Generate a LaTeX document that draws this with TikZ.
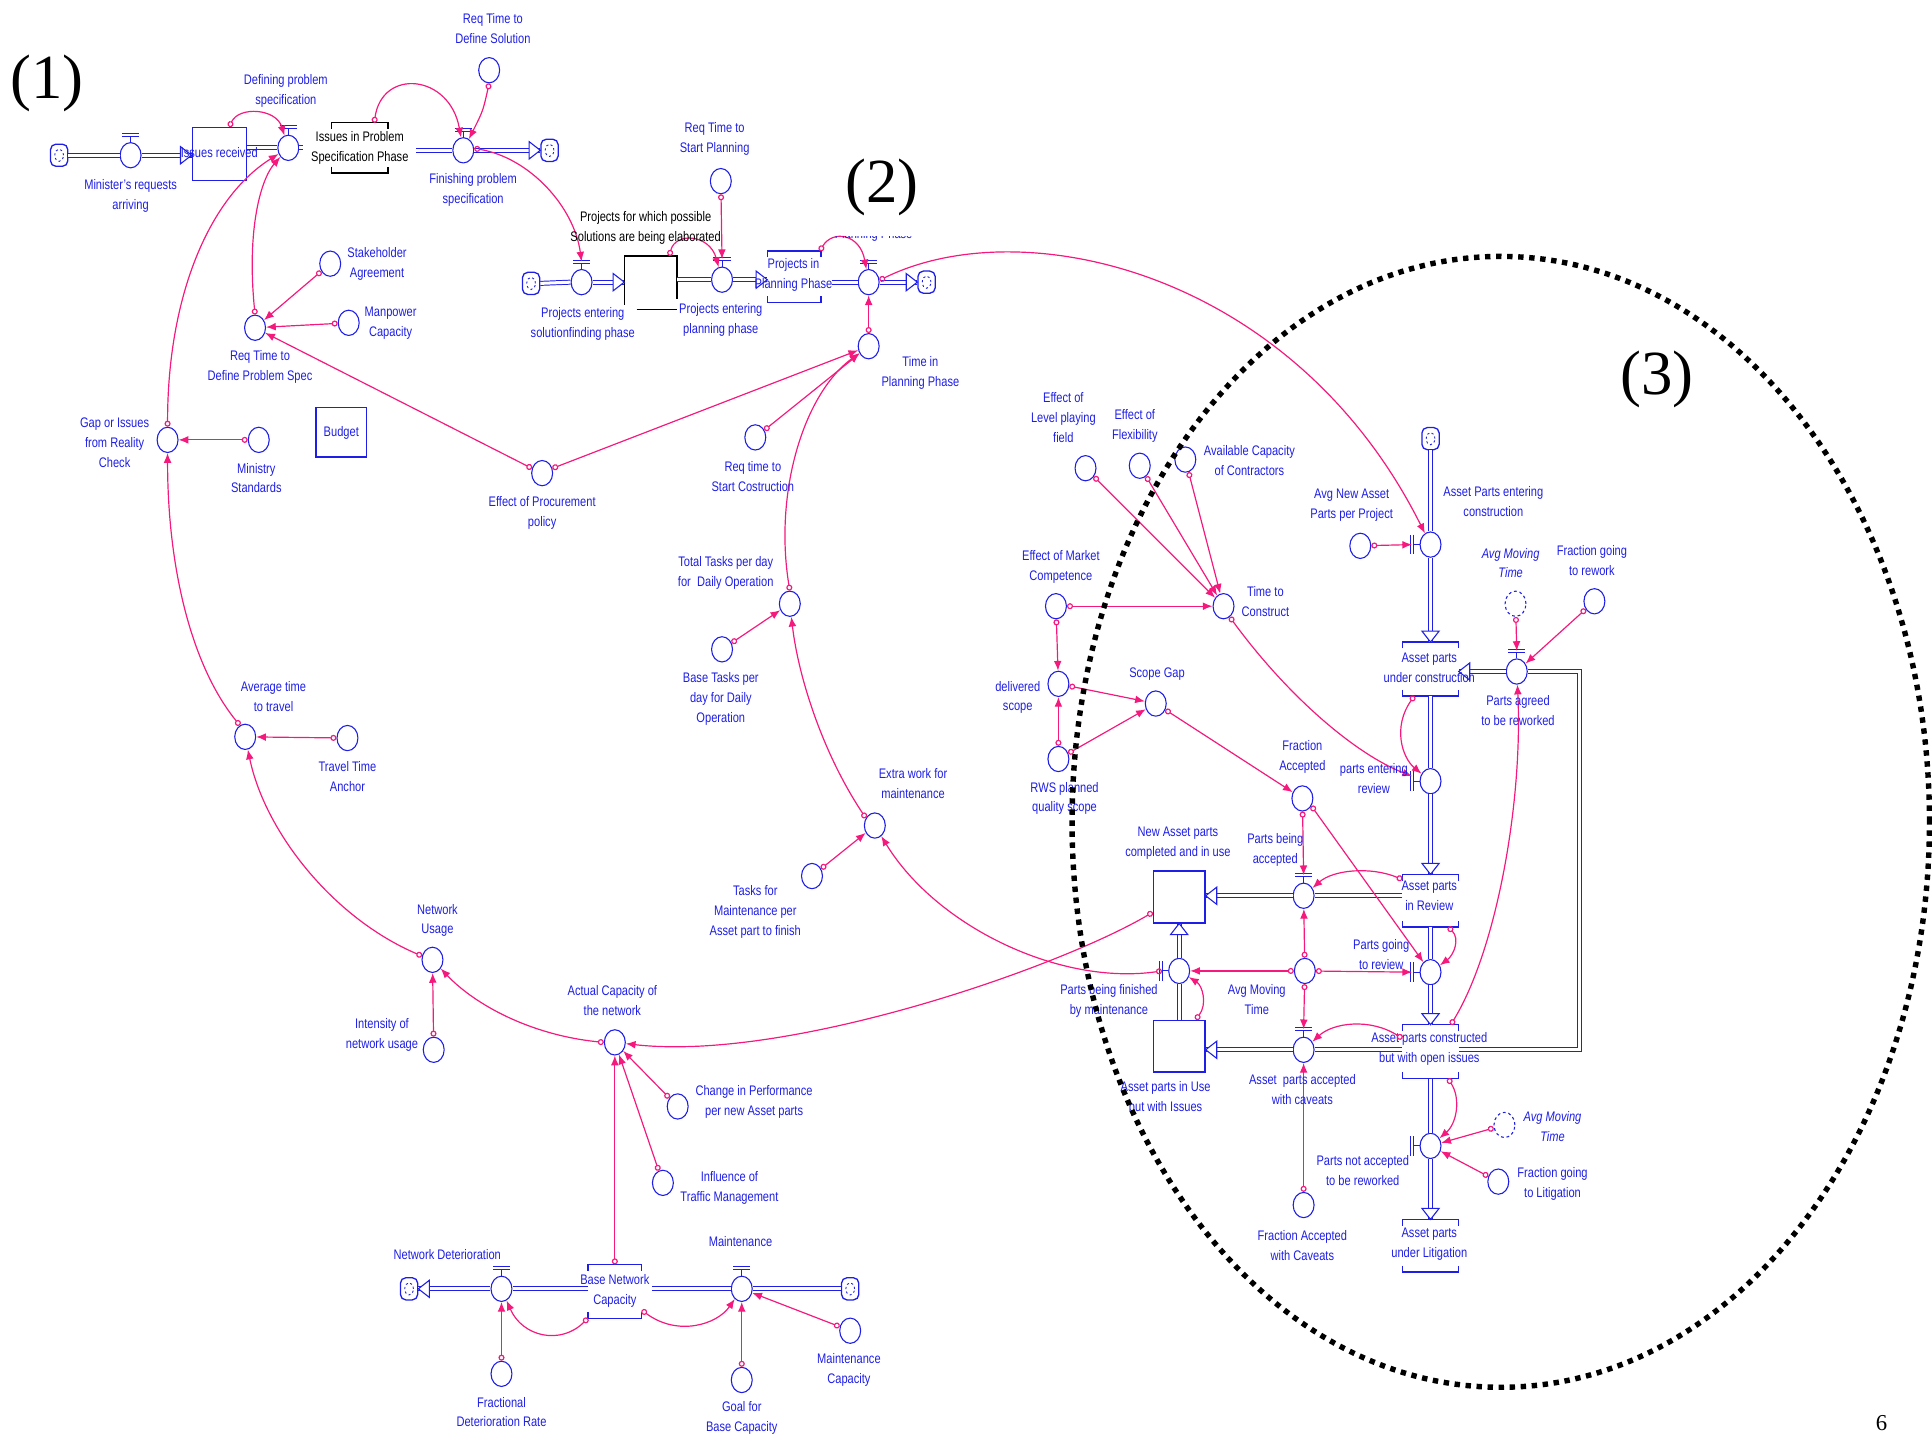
\documentclass[tikz,border=0pt]{standalone}
\usepackage{fontspec}
\setmainfont{Liberation Sans}[FakeStretch=0.8]
\newfontfamily\timesfont{Liberation Serif}
\usepackage{tikz}
\usetikzlibrary{shapes.geometric}
\usetikzlibrary{arrows.meta}
\usetikzlibrary{positioning}

\definecolor{vblue}{RGB}{30,30,230}
\definecolor{vpink}{RGB}{245,25,125}
\newcommand{\vfont}{\fontsize{6.4}{9.2}\selectfont}
\newcommand{\bigfont}{\timesfont\fontsize{29}{30}\selectfont}

% valve handle above / left of a flow valve
\newcommand{\valvetop}[1]{%
  \draw[vblue, line width=0.5pt] (#1.north) -- ++(0,-5);
  \draw[vblue, line width=0.45pt, double=white, double distance=0.9pt] ([shift={(-7,-6)}]#1.north) -- ++(14,0);}
\newcommand{\valveleft}[1]{%
  \draw[vblue, line width=0.5pt] (#1.west) -- ++(-5,0);
  \draw[vblue, line width=0.45pt, double=white, double distance=0.9pt] ([shift={(-6,-8)}]#1.west) -- ++(0,16);}
% stock drawn as two brackets
\newcommand{\bracketstock}[2]{%
  \draw[#2, line width=0.6pt] ([yshift=-0.1cm]#1.north west) -- (#1.north west) -- (#1.north east) -- ([yshift=-0.1cm]#1.north east);
  \draw[#2, line width=0.6pt] ([yshift=0.1cm]#1.south west) -- (#1.south west) -- (#1.south east) -- ([yshift=0.1cm]#1.south east);}

\tikzset{pipehead/.pic={\draw[vblue, line width=0.5pt, fill=white] (0,0) -- (-9,-7) -- (-9,7) -- cycle;}}

\begin{document}
\begin{tikzpicture}[x=0.02cm, y=-0.02cm,
  aux/.style={ellipse, draw=vblue, line width=0.5pt, fill=white, inner sep=0pt, minimum width=0.34cm, minimum height=0.41cm},
  shadowaux/.style={aux, dash pattern=on 1.3pt off 1.3pt},
  stockbox/.style={rectangle, draw=vblue, line width=0.6pt, inner sep=0pt, minimum width=0.88cm, minimum height=0.86cm},
  brk/.style={rectangle, inner sep=0pt, minimum width=0.9cm, minimum height=0.86cm},
  cloudsym/.style={draw=vblue, line width=0.6pt, rounded corners=2.5pt, fill=white, inner sep=0pt,
    minimum width=0.28cm, minimum height=0.36cm,
    path picture={\draw[vblue, line width=0.4pt, dash pattern=on 1pt off 1.2pt] (path picture bounding box.center) ellipse [x radius=0.07cm, y radius=0.1cm];}},
  lbl/.style={text=vblue, font=\vfont, align=center, inner sep=0pt},
  blk/.style={lbl, text=black},
  ital/.style={lbl, font=\vfont\itshape},
  pipe/.style={draw=vblue, line width=0.45pt, double=white, double distance=1.4pt},
  link/.style={vpink, line width=0.55pt, {Circle[open,length=2.8pt,width=2.8pt]}-{Latex[length=4.5pt,width=3.6pt]}},
]
\useasboundingbox (0,0) rectangle (1568,1168);
\clip (0,0) rectangle (1568,1168);

% (1) problem specification
\node[cloudsym] (cloudA) at (48,126) {};
\node[aux] (vMinReq) at (106,126) {};
\node[stockbox] (sIssRec) at (178,125) {};
\node[aux] (vDefProb) at (234,120) {};
\node[brk, minimum height=0.8cm] (sIssPS) at (292,120) {};
\node[aux] (vFinProb) at (376,122) {};
\node[cloudsym] (cloudB) at (446,122) {};
\node[aux] (aReqDefSol) at (397,57) {};
\node[aux] (aStake) at (268,214) {};
\node[aux] (aManpow) at (283,262) {};
\node[aux] (aReqDPS) at (207,266) {};
\node[aux] (aGap) at (136,357) {};
\node[aux] (aMinStd) at (210,357) {};
\node[stockbox, minimum width=0.82cm, minimum height=0.8cm, text=vblue, font=\vfont] (sBudget) at (277,351) {Budget};
\node[aux] (aAvgTravel) at (199,598) {};
\node[aux] (aTravel) at (282,599) {};
\node[aux] (aNetUsage) at (351,779) {};
\node[aux] (aIntens) at (352,852) {};
\node[aux] (aActCap) at (499,846) {};
\node[aux] (aChgPerf) at (550,898) {};
\node[aux] (aInflTraffic) at (538,960) {};
\node[cloudsym] (cloudC) at (332,1046) {};
\node[aux] (vNetDet) at (407,1046) {};
\node[brk, minimum width=0.86cm] (sBaseNet) at (499,1048) {};
\node[aux] (vMaint) at (602,1046) {};
\node[cloudsym] (cloudD) at (690,1046) {};
\node[aux] (aFracDet) at (407,1115) {};
\node[aux] (aGoalBase) at (602,1120) {};
\node[aux] (aMaintCap) at (690,1080) {};
\coordinate (cIssPSin) at (246,120);
\coordinate (cIssPSout) at (338,122);

% (2) solutions and planning
\node[cloudsym] (cloudE) at (431,230) {};
\node[aux] (vProjSol) at (472,229) {};
\node[brk, minimum width=0.84cm] (sSol) at (528,229.5) {};
\node[aux] (vProjPlan) at (586,227) {};
\node[brk, minimum width=0.86cm, minimum height=0.82cm] (sPlan) at (644.5,224.5) {};
\node[aux] (vPlan) at (705,229) {};
\node[cloudsym] (cloudF) at (752,229) {};
\node[aux] (aReqStartPl) at (585,147) {};
\node[aux] (aTimePlan) at (705,281) {};
\node[aux] (aReqStartCon) at (613,355) {};
\node[aux] (aProcure) at (440,384) {};
\node[aux] (aTotalTasks) at (641,490) {};
\node[aux] (aBaseTasks) at (586,527) {};
\node[aux] (aExtra) at (710,670) {};
\node[aux] (aTaskMaint) at (659,711) {};
\coordinate (cPlanOut) at (675,229);

% (3) construction of asset parts
\node[aux] (aLevel) at (881,380) {};
\node[aux] (aFlex) at (925,378) {};
\node[aux] (aAvail) at (962,373) {};
\node[aux] (aTimeCon) at (993,492) {};
\node[aux] (aMarket) at (857,492) {};
\node[aux] (aDeliv) at (859,555) {};
\node[aux] (aScopeGap) at (938,571) {};
\node[aux] (aRWS) at (859,616) {};
\node[aux] (aFracAcc) at (1057,648) {};
\node[cloudsym] (cloudG) at (1161,356) {};
\node[aux] (vAPEC) at (1161,442) {};
\node[aux] (aAvgNewAP) at (1104,443) {};
\node[brk] (sUnderCon) at (1161,543) {};
\node[aux] (vRework) at (1231,545) {};
\node[shadowaux] (aAvgMovTop) at (1230,490) {};
\node[aux] (aFracRework) at (1294,488) {};
\node[aux] (vEntRev) at (1161,634) {};
\node[brk, minimum height=0.84cm] (sReview) at (1161,731) {};
\node[aux] (vBeingAcc) at (1058,727) {};
\node[stockbox, minimum width=0.84cm, minimum height=0.84cm] (sNewAsset) at (957,728) {};
\node[aux] (vGoRev) at (1161,789) {};
\node[aux] (aAvgMid) at (1059,788) {};
\node[brk] (sOpen) at (1161,853.5) {};
\node[aux] (vCaveat) at (1058,852) {};
\node[aux] (aFracCav) at (1058,978) {};
\node[aux] (vFinMaint) at (957,788) {};
\node[stockbox, minimum width=0.84cm, minimum height=0.84cm] (sUseIss) at (957,849) {};
\node[aux] (vNotAcc) at (1161,930) {};
\node[shadowaux] (aAvgMovLow) at (1221,913) {};
\node[aux] (aFracLit) at (1216,959) {};
\node[brk, minimum height=0.84cm] (sLit) at (1161,1011) {};
\coordinate (cRwkLow) at (1282,852);
\coordinate (cRwkUp) at (1282,545);

% valve handles and bracket stocks
\valvetop{vMinReq} \valvetop{vDefProb} \valvetop{vFinProb}
\valvetop{vProjSol} \valvetop{vProjPlan} \valvetop{vPlan}
\valvetop{vNetDet} \valvetop{vMaint}
\valvetop{vRework} \valvetop{vBeingAcc} \valvetop{vCaveat}
\valveleft{vAPEC} \valveleft{vEntRev} \valveleft{vGoRev}
\valveleft{vNotAcc} \valveleft{vFinMaint}
\bracketstock{sIssPS}{black}
\bracketstock{sPlan}{vblue}
\bracketstock{sBaseNet}{vblue}
\bracketstock{sUnderCon}{vblue}
\bracketstock{sReview}{vblue}
\bracketstock{sOpen}{vblue}
\bracketstock{sLit}{vblue}
\draw[black, line width=0.6pt] ([yshift=0.08cm]sSol.south west) -- (sSol.north west) -- (sSol.north east) -- ++(0,35);
\draw[black, line width=0.6pt] ([xshift=0.2cm]sSol.south west) -- (sSol.south east);

% flows
\draw[pipe] (cloudA.east) -- (vMinReq.west);
\draw[pipe] (vMinReq.east) -- (vMinReq.east -| sIssRec.west);
\draw[pipe] (sIssRec.east |- vDefProb) -- (vDefProb.west);
\draw[pipe] (vDefProb.east) -- (cIssPSin);
\draw[pipe] (cIssPSout) -- (vFinProb.west);
\draw[pipe] (vFinProb.east) -- (cloudB.west);
\draw[pipe] (cloudE.east) -- (vProjSol.west);
\draw[pipe] (vProjSol.east) -- (vProjSol.east -| sSol.west);
\draw[pipe] (sSol.east |- vProjPlan) -- (vProjPlan.west);
\draw[pipe] (vProjPlan.east) -- (vProjPlan.east -| sPlan.west);
\draw[pipe] (cPlanOut) -- (vPlan.west);
\draw[pipe] (vPlan.east) -- (cloudF.west);
\draw[pipe] (sBaseNet.west |- vNetDet) -- (vNetDet.east);
\draw[pipe] (vNetDet.west) -- (cloudC.east);
\draw[pipe] (cloudD.west) -- (vMaint.east);
\draw[pipe] (vMaint.west) -- ([xshift=0.16cm]vMaint.west -| sBaseNet.east);
\draw[pipe] (cloudG.south) -- (vAPEC.north);
\draw[pipe] (vAPEC.south) -- (sUnderCon.north);
\draw[pipe] (sUnderCon.south) -- (vEntRev.north);
\draw[pipe] (vEntRev.south) -- (sReview.north);
\draw[pipe] (sReview.west |- vBeingAcc) -- (vBeingAcc.east);
\draw[pipe] (vBeingAcc.west) -- (vBeingAcc.west -| sNewAsset.east);
\draw[pipe] (sReview.south) -- (vGoRev.north);
\draw[pipe] (vGoRev.south) -- (sOpen.north);
\draw[pipe] (sOpen.west |- vCaveat) -- (vCaveat.east);
\draw[pipe] (vCaveat.west) -- (vCaveat.west -| sUseIss.east);
\draw[pipe] (sUseIss.north) -- (vFinMaint.south);
\draw[pipe] (vFinMaint.north) -- (sNewAsset.south);
\draw[pipe] (sOpen.south) -- (vNotAcc.north);
\draw[pipe] (vNotAcc.south) -- (sLit.north);
\draw[pipe] (sOpen.east |- cRwkLow) -- (cRwkLow) -- (cRwkUp) -- (vRework.east);
\draw[pipe] (vRework.west) -- (vRework.west -| sUnderCon.east);
\pic at (vMinReq.east -| sIssRec.west) {pipehead};
\pic at (cloudB.west) {pipehead};
\pic at (vProjSol.east -| sSol.west) {pipehead};
\pic at (vProjPlan.east -| sPlan.west) {pipehead};
\pic at (cloudF.west) {pipehead};
\pic[rotate=180] at (cloudC.east) {pipehead};
\pic[rotate=-90] at (sUnderCon.north) {pipehead};
\pic[rotate=-90] at (sReview.north) {pipehead};
\pic[rotate=180] at (vBeingAcc.west -| sNewAsset.east) {pipehead};
\pic[rotate=-90] at (sOpen.north) {pipehead};
\pic[rotate=180] at (vCaveat.west -| sUseIss.east) {pipehead};
\pic[rotate=90] at (sNewAsset.south) {pipehead};
\pic[rotate=-90] at (sLit.north) {pipehead};
\pic[rotate=180] at (vRework.west -| sUnderCon.east) {pipehead};

% stock texts
\node[lbl] (tIssRec) at (178,124) {Issues received};
\node[blk] (tIssPS) at (292,120) {Issues in Problem\\Specification Phase};
\node[lbl] (tPlan) at (644,223) {Projects in\\Planning Phase};
\node[lbl] (tBaseNet) at (499,1048) {Base Network\\Capacity};
\node[lbl] (tUnderCon) at (1160,542) {Asset parts\\under construction};
\node[lbl] (tReview) at (1160,727) {Asset parts\\in Review};
\node[lbl] (tOpen) at (1160,851) {Asset parts constructed\\but with open issues};
\node[lbl] (tLit) at (1160,1010) {Asset parts\\under Litigation};

% links (1)
\draw[link] (sIssRec.70) .. controls (194,86) and (224,88) .. (vDefProb);
\draw[link] (sIssPS.60) .. controls (310,55) and (365,60) .. (vFinProb);
\draw[link] (aReqDefSol.south) .. controls (392,90) .. (vFinProb);
\draw[link] (vFinProb.10) .. controls (430,128) and (466,168) .. ([yshift=0.12cm]vProjSol.north);
\draw[link] (aReqDPS.north) .. controls (200,185) and (212,145) .. (vDefProb);
\draw[link] (aStake) -- (aReqDPS);
\draw[link] (aManpow) -- (aReqDPS);
\draw[link] (aProcure.155) -- (aReqDPS);
\draw[link] (aGap.north) .. controls (136,240) and (170,160) .. (vDefProb);
\draw[link] (aMinStd) -- (aGap);
\draw[link] (aAvgTravel.115) .. controls (155,540) and (136,460) .. (aGap);
\draw[link] (aTravel) -- (aAvgTravel);
\draw[link] (aNetUsage.160) .. controls (270,745) and (215,675) .. (aAvgTravel);
\draw[link] (aIntens) -- (aNetUsage);
\draw[link] (aActCap.west) .. controls (430,840) and (385,815) .. (aNetUsage);
\draw[link] (sNewAsset.210) .. controls (860,785) and (640,862) .. (aActCap);
\draw[link] (aChgPerf) -- (aActCap);
\draw[link] (aInflTraffic) -- (aActCap);
\draw[link] (sBaseNet.north) -- (aActCap);
\draw[link] (sBaseNet.225) .. controls (455,1092) and (424,1085) .. (vNetDet);
\draw[link] (sBaseNet.-35) .. controls (550,1085) and (582,1075) .. (vMaint);
\draw[link] (aFracDet) -- (vNetDet);
\draw[link] (aGoalBase) -- (vMaint);
\draw[link] (aMaintCap) -- (vMaint);

% links (2)
\draw[link] (sSol.55) .. controls (548,188) and (576,190) .. (vProjPlan);
\draw[link] (aReqStartPl) -- ([yshift=0.12cm]vProjPlan.north);
\draw[link] (sPlan.45) .. controls (676,186) and (698,190) .. (vPlan);
\draw[link] (aTimePlan) -- (vPlan);
\draw[link] (aReqStartCon) -- (aTimePlan);
\draw[link] (aProcure.25) -- (aTimePlan);
\draw[link] (aTotalTasks.north) .. controls (628,400) and (652,320) .. (aTimePlan);
\draw[link] (aBaseTasks) -- (aTotalTasks);
\draw[link] (aExtra.140) .. controls (668,612) and (648,550) .. (aTotalTasks);
\draw[link] (aTaskMaint) -- (aExtra);
\draw[link] ([xshift=-0.1cm]vFinMaint.west) .. controls (860,800) and (760,752) .. (aExtra);
\draw[link] (vPlan.10) .. controls (830,170) and (1050,220) .. (vAPEC);

% links (3)
\draw[link] (aLevel) -- (aTimeCon);
\draw[link] (aFlex) -- (aTimeCon);
\draw[link] (aAvail) -- (aTimeCon);
\draw[link] (aMarket) -- (aTimeCon);
\draw[link] (aMarket) -- (aDeliv);
\draw[link] (aDeliv) -- (aScopeGap);
\draw[link] (aRWS) -- (aDeliv);
\draw[link] (aRWS) -- (aScopeGap);
\draw[link] (aTimeCon.-60) .. controls (1045,565) and (1100,612) .. ([shift={(-6,-4)}]vEntRev.west);
\draw[link] (aScopeGap) -- (aFracAcc);
\draw[link] (aAvgNewAP) -- ([xshift=-0.12cm]vAPEC.west);
\draw[link] (aAvgMovTop) -- ([yshift=0.12cm]vRework.north);
\draw[link] (aFracRework) -- (vRework);
\draw[link] (sOpen.53) .. controls (1215,770) and (1236,650) .. (vRework);
\draw[link] (sUnderCon.-121) .. controls (1130,590) and (1138,615) .. (vEntRev);
\draw[link] (sReview.143) .. controls (1112,703) and (1082,706) .. (vBeingAcc);
\draw[link] (aFracAcc) -- ([yshift=0.12cm]vBeingAcc.north);
\draw[link] (aFracAcc.-40) -- (vGoRev);
\draw[link] (sReview.-56) .. controls (1185,762) and (1180,775) .. (vGoRev);
\draw[link] (aAvgMid) -- (vBeingAcc);
\draw[link] (aAvgMid) -- ([yshift=0.12cm]vCaveat.north);
\draw[link] (aAvgMid) -- (vFinMaint);
\draw[link] (aAvgMid) -- ([xshift=-0.12cm]vGoRev.west);
\draw[link] (sOpen.155) .. controls (1112,826) and (1082,830) .. (vCaveat);
\draw[link] (aFracCav) -- (vCaveat);
\draw[link] (sUseIss.58) .. controls (980,815) and (976,800) .. (vFinMaint);
\draw[link] (sOpen.-57) .. controls (1186,892) and (1182,912) .. (vNotAcc);
\draw[link] (aAvgMovLow) -- (vNotAcc);
\draw[link] (aFracLit) -- (vNotAcc);

% labels (1)
\node[lbl] (lMinReq) at (106,159) {Minister's requests\\arriving};
\node[lbl] (lDefProb) at (232,74) {Defining problem\\specification};
\node[lbl] (lFinProb) at (384,154) {Finishing problem\\specification};
\node[lbl] (lReqDefSol) at (400,23) {Req Time to\\Define Solution};
\node[lbl] (lStake) at (306,214) {Stakeholder\\Agreement};
\node[lbl] (lManpow) at (317,262) {Manpower\\Capacity};
\node[lbl] (lReqDPS) at (211,298) {Req Time to\\Define Problem Spec};
\node[lbl] (lGap) at (93,359) {Gap or Issues\\from Reality\\Check};
\node[lbl] (lMinStd) at (208,388) {Ministry\\Standards};
\node[lbl] (lAvgTravel) at (222,565) {Average time\\to travel};
\node[lbl] (lTravel) at (282,630) {Travel Time\\Anchor};
\node[lbl] (lNetUsage) at (355,747) {Network\\Usage};
\node[lbl] (lIntens) at (310,840) {Intensity of\\network usage};
\node[lbl] (lActCap) at (497,812) {Actual Capacity of\\the network};
\node[lbl] (lChgPerf) at (612,894) {Change in Performance\\per new Asset parts};
\node[lbl] (lInfl) at (592,964) {Influence of\\Traffic Management};
\node[lbl] (lNetDet) at (363,1018) {Network Deterioration};
\node[lbl] (lMaint) at (601,1008) {Maintenance};
\node[lbl] (lFracDet) at (407,1146) {Fractional\\Deterioration Rate};
\node[lbl] (lGoalBase) at (602,1151) {Goal for\\Base Capacity};
\node[lbl] (lMaintCap) at (689,1112) {Maintenance\\Capacity};

% labels (2)
\node[lbl] (lProjSol) at (473,263) {Projects entering\\solutionfinding phase};
\node[blk] (tSol) at (524,185) {Projects for which possible\\Solutions are being elaborated};
\node[lbl] (lProjPlan) at (585,260) {Projects entering\\planning phase};
\node[lbl] (lReqStartPl) at (580,113) {Req Time to\\Start Planning};
\begin{scope}
\clip (670,192) rectangle (750,200);
\node[lbl] (lPlanCut) at (709,191) {Planning Phase};
\end{scope}
\node[lbl] (lTimePlan) at (747,303) {Time in\\Planning Phase};
\node[lbl] (lReqStartCon) at (611,387) {Req time to\\Start Costruction};
\node[lbl] (lProcure) at (440,416) {Effect of Procurement\\policy};
\node[lbl] (lTotalTasks) at (589,465) {Total Tasks per day\\for\ \ Daily Operation};
\node[lbl] (lBaseTasks) at (585,567) {Base Tasks per\\day for Daily\\Operation};
\node[lbl] (lExtra) at (741,636) {Extra work for\\maintenance};
\node[lbl] (lTaskMaint) at (613,740) {Tasks for\\Maintenance per\\Asset part to finish};

% labels (3)
\node[lbl] (lLevel) at (863,339) {Effect of\\Level playing\\field};
\node[lbl] (lFlex) at (921,346) {Effect of\\Flexibility};
\node[lbl] (lAvail) at (1014,374) {Available Capacity\\of Contractors};
\node[lbl] (lTimeCon) at (1027,488) {Time to\\Construct};
\node[lbl] (lMarket) at (861,460) {Effect of Market\\Competence};
\node[lbl] (lDeliv) at (826,566) {delivered\\scope};
\node[lbl] (lScopeGap) at (939,547) {Scope Gap};
\node[lbl] (lRWS) at (864,648) {RWS planned\\quality scope};
\node[lbl] (lFracAcc) at (1057,614) {Fraction\\Accepted};
\node[lbl] (lAPEC) at (1212,407) {Asset Parts entering\\construction};
\node[lbl] (lAvgNewAP) at (1097,410) {Avg New Asset\\Parts per Project};
\node[ital] (lAvgMovTop) at (1226,457) {Avg Moving\\Time};
\node[lbl] (lFracRework) at (1292,455) {Fraction going\\to rework};
\node[lbl] (lRework) at (1232,577) {Parts agreed\\to be reworked};
\node[lbl] (lEntRev) at (1115,632) {parts entering\\review};
\node[lbl] (lNewAsset) at (956,684) {New Asset parts\\completed and in use};
\node[lbl] (lBeingAcc) at (1035,690) {Parts being\\accepted};
\node[lbl] (lGoRev) at (1121,775) {Parts going\\to review};
\node[lbl] (lAvgMid) at (1020,811) {Avg Moving\\Time};
\node[lbl] (lCaveat) at (1057,884) {Asset\ \ parts accepted\\with caveats};
\node[lbl] (lFracCav) at (1057,1011) {Fraction Accepted\\with Caveats};
\node[lbl] (lUseIss) at (946,890) {Asset parts in Use\\but with Issues};
\node[lbl] (lFinMaint) at (900,812) {Parts being finished\\by maintenance};
\node[lbl] (lNotAcc) at (1106,950) {Parts not accepted\\to be reworked};
\node[ital] (lAvgMovLow) at (1260,914) {Avg Moving\\Time};
\node[lbl] (lFracLit) at (1260,961) {Fraction going\\to Litigation};

% dotted boundary of part (3)
\draw[black, line width=2.5pt, dash pattern=on 2.5pt off 2.6pt] (1218,667) ellipse [x radius=6.96cm, y radius=9.18cm];

\node[font=\bigfont] (part1) at (38,68) {(1)};
\node[font=\bigfont] (part2) at (716,152) {(2)};
\node[font=\bigfont] (part3) at (1345,308) {(3)};
\node[font=\timesfont\fontsize{10.5}{12}\selectfont] (pageno) at (1527,1155) {6};
\end{tikzpicture}
\end{document}
